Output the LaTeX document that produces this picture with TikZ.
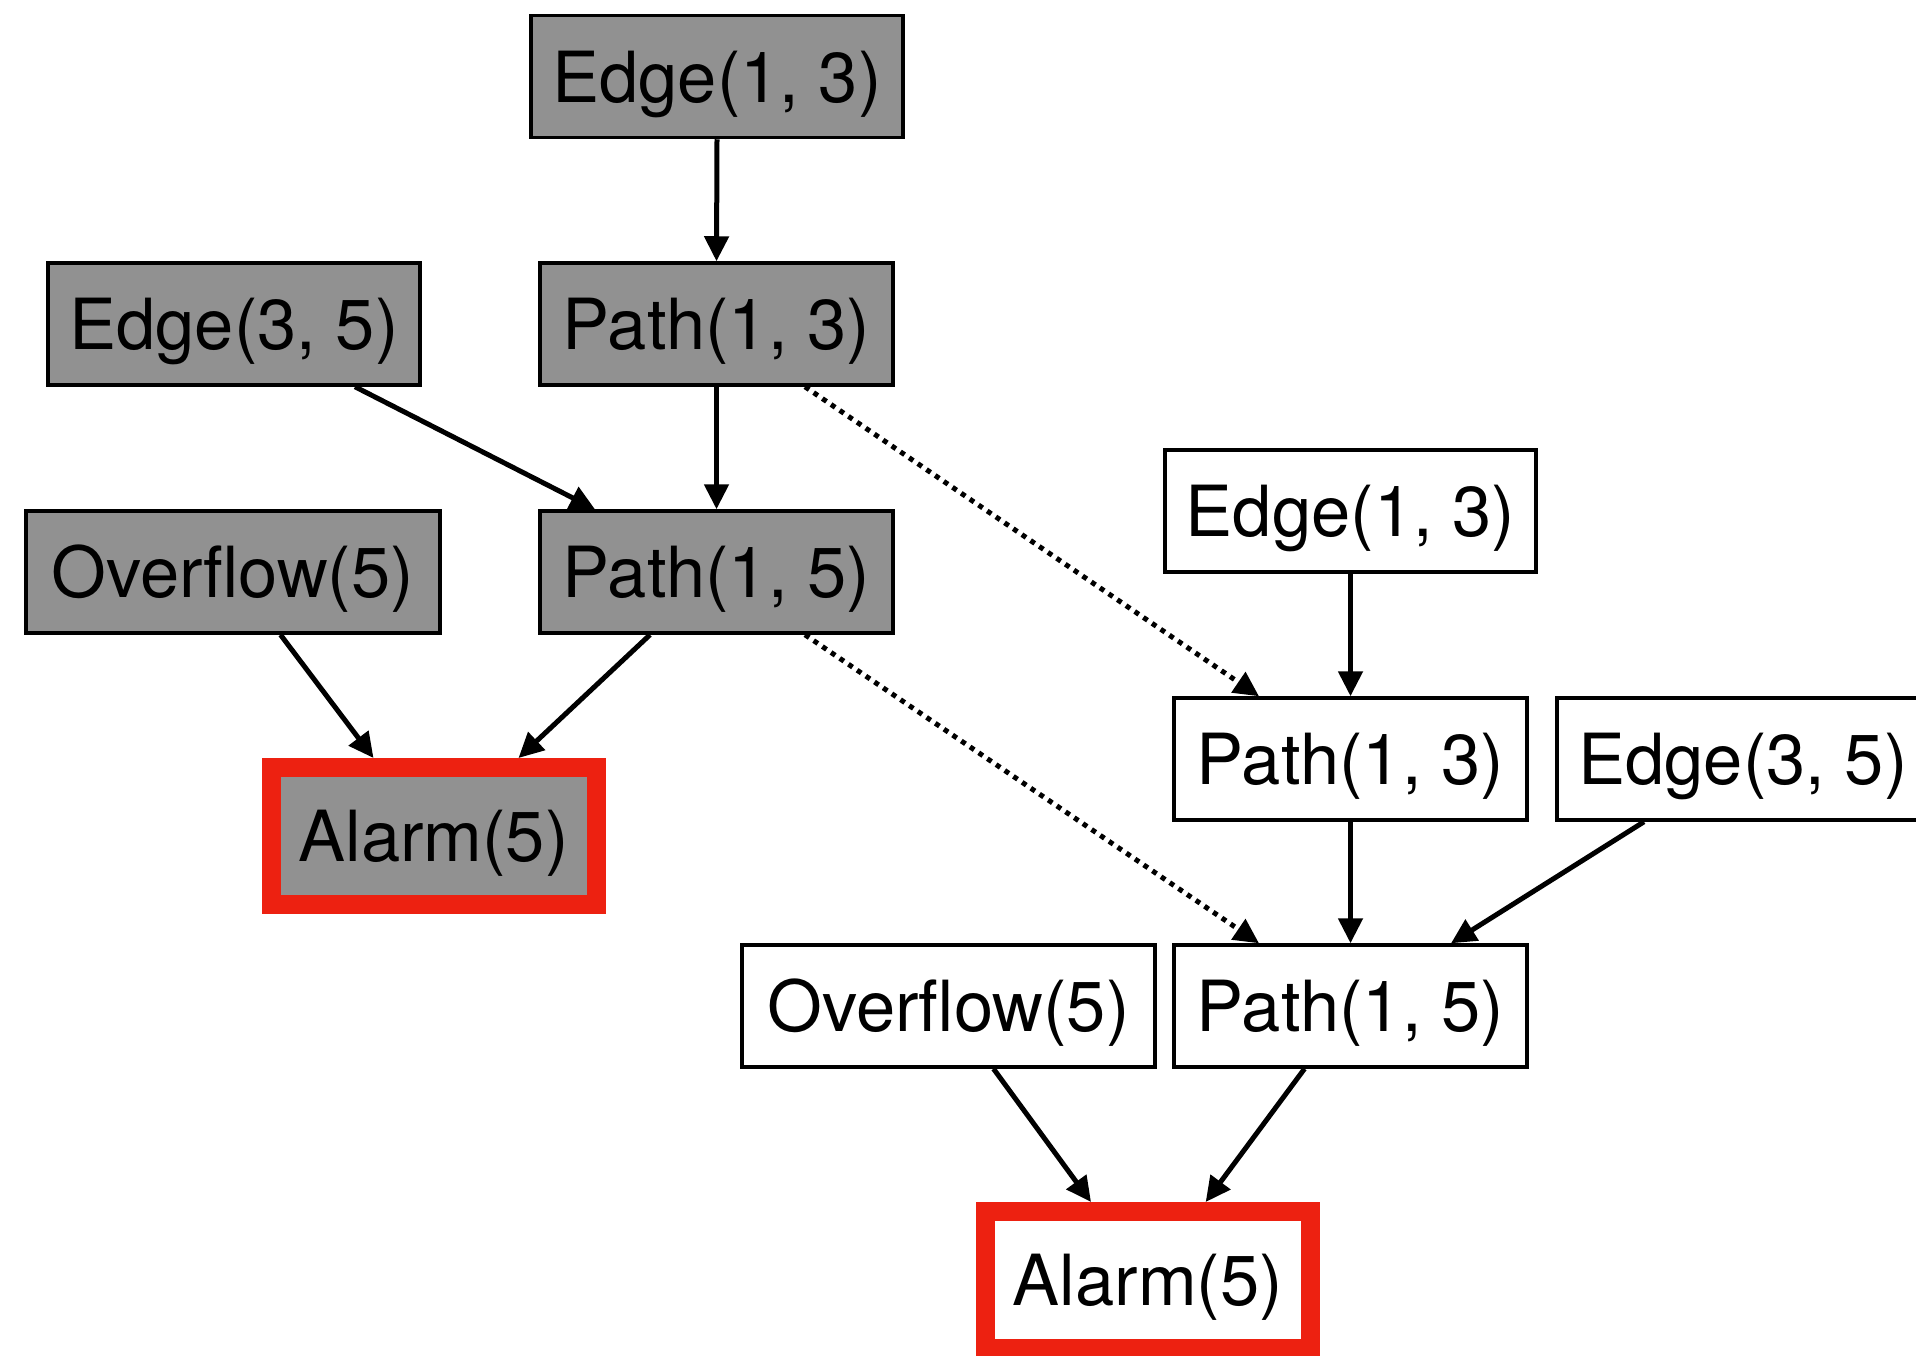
\documentclass[tikz,border=0pt]{standalone}
\usepackage{fontspec}
\setmainfont{TeX Gyre Heros}
\usetikzlibrary{arrows.meta}

\definecolor{factgray}{RGB}{145,145,145}
\definecolor{alarmred}{RGB}{237,33,17}

\tikzset{
  fact/.style={draw=black, line width=3.5pt, inner sep=0pt,
    minimum height=122pt, text height=51pt, text depth=0pt,
    font=\fontsize{70.5}{80}\selectfont},
  derived/.style={fact, fill=factgray},
  fresh/.style={fact, fill=white},
  alarmbox/.style={draw=alarmred, line width=19pt, minimum width=325pt, minimum height=137pt},
  link/.style={line width=5pt, -{Triangle[length=25pt,width=24pt]}},
  reuse/.style={link, dash pattern=on 5pt off 5.5pt}
}

\begin{document}
\begin{tikzpicture}[x=1pt,y=-1pt]
  \useasboundingbox (0,0) rectangle (1916,1355);

  % first derivation (shaded)
  \node[derived, minimum width=372pt] (gE13) at (717,76.5) {Edge(1, 3)};
  \node[derived, minimum width=372pt] (gE35) at (234,324) {Edge(3, 5)};
  \node[derived, minimum width=353pt] (gP13) at (716.5,324) {Path(1, 3)};
  \node[derived, minimum width=414pt] (gOv) at (233,572) {Overflow(5)};
  \node[derived, minimum width=353pt] (gP15) at (716.5,572) {Path(1, 5)};
  \node[derived, alarmbox] (gAl) at (433.5,836) {Alarm(5)};

  % second derivation (plain)
  \node[fresh, minimum width=371pt] (rE13) at (1350.5,511) {Edge(1, 3)};
  \node[fresh, minimum width=353pt] (rP13) at (1350.5,759) {Path(1, 3)};
  \node[fresh, minimum width=372pt] (rE35) at (1743,759) {Edge(3, 5)};
  \node[fresh, minimum width=413pt] (rOv) at (948.5,1006) {Overflow(5)};
  \node[fresh, minimum width=353pt] (rP15) at (1350.5,1006) {Path(1, 5)};
  \node[fresh, alarmbox] (rAl) at (1148,1280) {Alarm(5)};

  % connectors of the first derivation
  \draw[link] (gE13.south) -- (gP13.north);
  \draw[link] ([xshift=121pt]gE35.south) -- ([xshift=-121.5pt]gP15.north);
  \draw[link] (gP13.south) -- (gP15.north);
  \draw[link] ([xshift=47.5pt]gOv.south) -- ([xshift=-60pt]gAl.north);
  \draw[link] ([xshift=-66.5pt]gP15.south) -- ([xshift=85pt]gAl.north);

  % reused facts
  \draw[reuse] ([xshift=88.5pt]gP13.south) -- ([xshift=-91.5pt]rP13.north);
  \draw[reuse] ([xshift=88.5pt]gP15.south) -- ([xshift=-91.5pt]rP15.north);

  % connectors of the second derivation
  \draw[link] (rE13.south) -- (rP13.north);
  \draw[link] (rP13.south) -- (rP15.north);
  \draw[link] ([xshift=-99pt]rE35.south) -- ([xshift=100.5pt]rP15.north);
  \draw[link] ([xshift=45pt]rOv.south) -- ([xshift=-57pt]rAl.north);
  \draw[link] ([xshift=-46pt]rP15.south) -- ([xshift=57.7pt]rAl.north);
\end{tikzpicture}
\end{document}
